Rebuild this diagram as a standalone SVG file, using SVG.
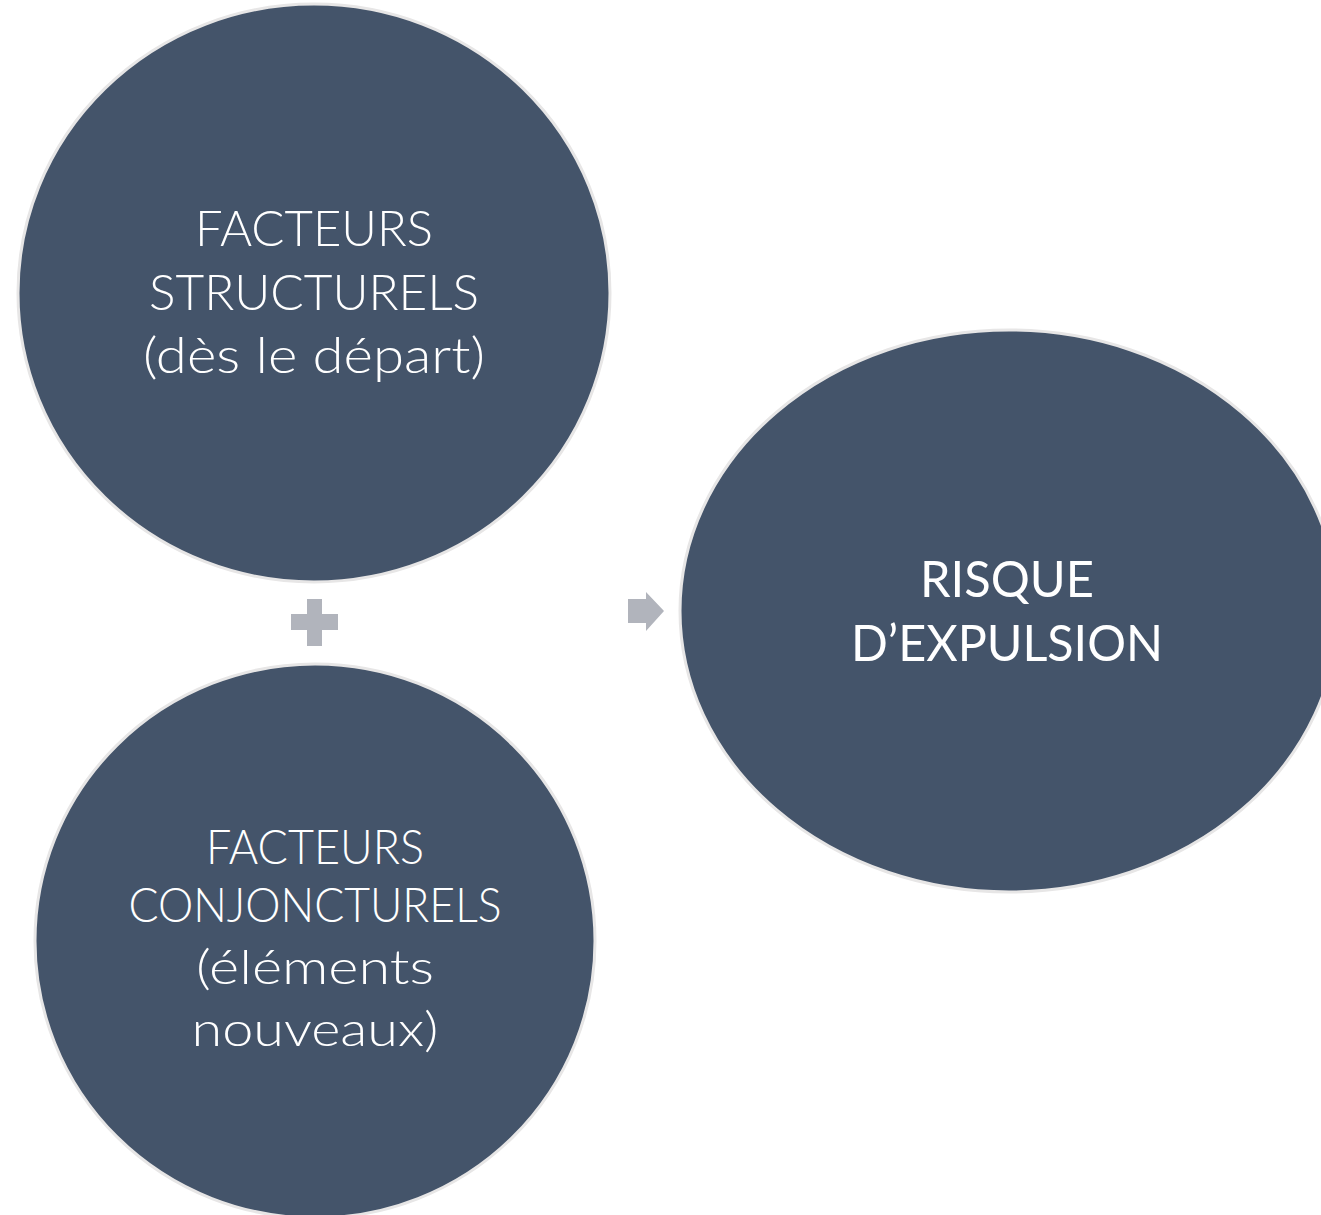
<svg xmlns="http://www.w3.org/2000/svg" width="1321" height="1215" viewBox="0 0 1321 1215">
<style>
.node{fill:#44546a;stroke:#e7e6e6;stroke-width:3}
.lt{font-family:"Lato","Liberation Sans",sans-serif;font-weight:300;font-size:50px;fill:#ffffff;text-anchor:middle}
.sm{font-size:47px}
.rg{font-family:"Lato","Liberation Sans",sans-serif;font-weight:400;font-size:50px;fill:#ffffff;text-anchor:middle}
.conn{fill:#b1b4bc}
</style>
<rect width="1321" height="1215" fill="#ffffff"/>
<g id="structurels">
<ellipse class="node" cx="314" cy="293" rx="296" ry="289"/>
<text class="lt" x="314" y="246" textLength="238" lengthAdjust="spacingAndGlyphs">FACTEURS</text>
<text class="lt" x="314" y="310" textLength="330" lengthAdjust="spacingAndGlyphs">STRUCTURELS</text>
<text class="lt" x="314" y="373" textLength="342" lengthAdjust="spacingAndGlyphs">(dès le départ)</text>
</g>
<g id="conjoncturels">
<ellipse class="node" cx="315" cy="941" rx="280" ry="277"/>
<text class="lt sm" x="315" y="864" textLength="218" lengthAdjust="spacingAndGlyphs">FACTEURS</text>
<text class="lt sm" x="315" y="922" textLength="373" lengthAdjust="spacingAndGlyphs">CONJONCTURELS</text>
<text class="lt sm" x="315" y="984" textLength="238" lengthAdjust="spacingAndGlyphs">(éléments</text>
<text class="lt sm" x="315" y="1046" textLength="247" lengthAdjust="spacingAndGlyphs">nouveaux)</text>
</g>
<g id="risque">
<ellipse class="node" cx="1009" cy="611" rx="329" ry="281"/>
<text class="rg" x="1007" y="597" textLength="174" lengthAdjust="spacingAndGlyphs">RISQUE</text>
<text class="rg" x="1007" y="661" textLength="312" lengthAdjust="spacingAndGlyphs">D’EXPULSION</text>
</g>
<g id="connectors">
<path class="conn" d="M307 599H322V614H338V630H322V646H307V630H291V614H307Z"/>
<path class="conn" d="M628 599H646V592L664 611L646 631V623H628Z"/>
</g>
</svg>
